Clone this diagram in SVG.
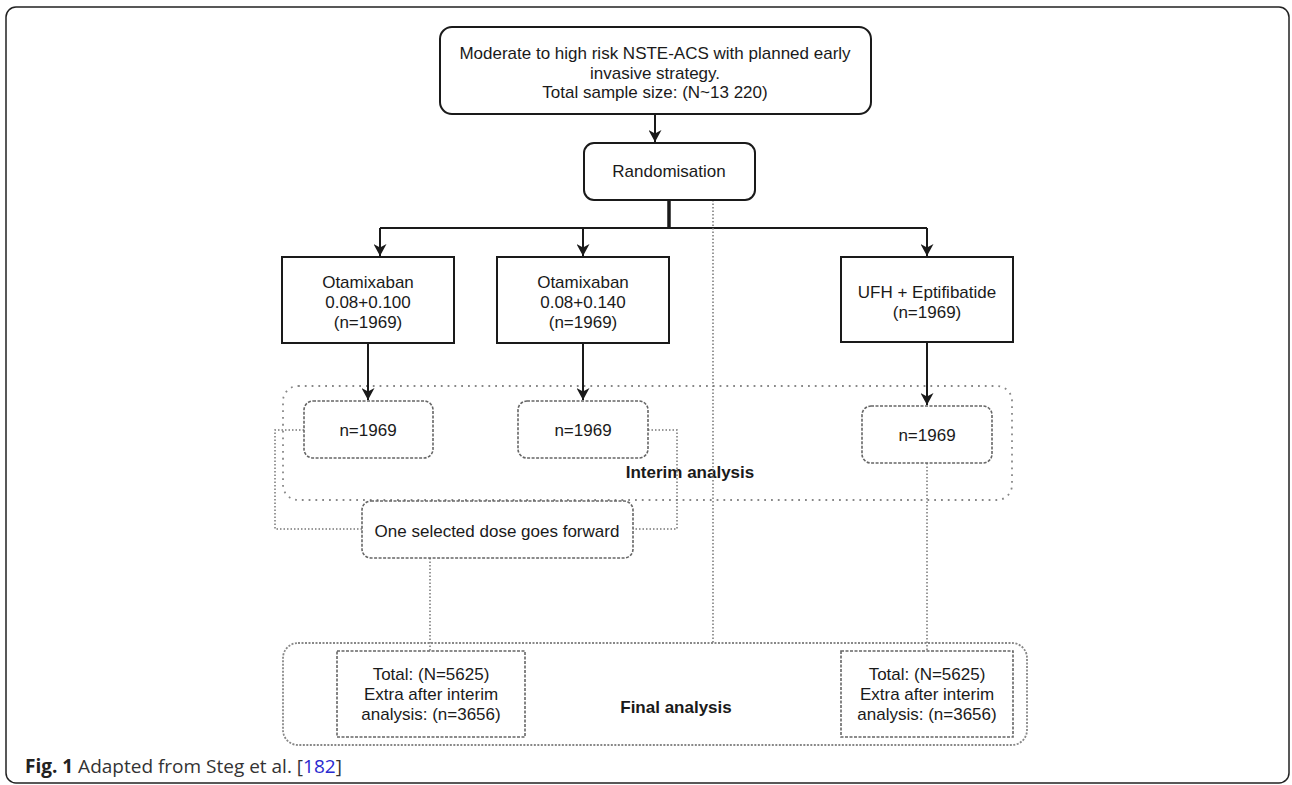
<svg xmlns="http://www.w3.org/2000/svg" width="1292" height="785" viewBox="0 0 1292 785">
<style>
.t{font-family:"Liberation Sans",Arial,sans-serif;font-size:17px;fill:#1a1a1a;text-anchor:middle}
.b{font-weight:bold}
.solid{fill:#fff;stroke:#1a1a1a;stroke-width:2}
.conn{fill:none;stroke:#1a1a1a;stroke-width:2}
.dot{fill:none;stroke:#777;stroke-width:1.5;stroke-dasharray:1.5 2}
.grp{fill:none;stroke:#888;stroke-width:1.8;stroke-dasharray:1.8 5}
.fgrp{fill:none;stroke:#888;stroke-width:1.8;stroke-dasharray:2 1.5}
.dash{fill:#fff;stroke:#666;stroke-width:1.6;stroke-dasharray:3 1.5}
.cap{font-family:"Open Sans","Liberation Sans",sans-serif;font-size:19px;fill:#333}
</style>
<defs>
<marker id="ah" markerWidth="13" markerHeight="13" refX="12" refY="6.5" orient="auto" markerUnits="userSpaceOnUse">
<path d="M0,0 L12,6.5 L0,13 L3.5,6.5 z" fill="#1a1a1a"/>
</marker>
</defs>
<rect x="0" y="0" width="1292" height="785" fill="#fff"/>
<rect id="frame" x="6" y="7" width="1283" height="776" rx="10" fill="none" stroke="#222" stroke-width="1.5"/>

<g id="interim-group">
<rect x="283" y="386" width="729" height="114" rx="15" class="grp"/>
<text x="690" y="478" class="t b">Interim analysis</text>
</g>
<g id="final-group">
<rect x="283" y="643" width="744" height="102" rx="15" class="fgrp"/>
<text x="676" y="713" class="t b">Final analysis</text>
</g>

<g id="connectors">
<line x1="655" y1="114" x2="655" y2="142" class="conn" marker-end="url(#ah)"/>
<line x1="669" y1="200" x2="669" y2="229" stroke="#1a1a1a" stroke-width="3.5"/>
<path d="M380,228 H927" class="conn"/>
<line x1="380" y1="228" x2="380" y2="256" class="conn" marker-end="url(#ah)"/>
<line x1="583" y1="228" x2="583" y2="256" class="conn" marker-end="url(#ah)"/>
<line x1="927" y1="228" x2="927" y2="256" class="conn" marker-end="url(#ah)"/>
<line x1="368" y1="343" x2="368" y2="400" class="conn" marker-end="url(#ah)"/>
<line x1="583" y1="343" x2="583" y2="400" class="conn" marker-end="url(#ah)"/>
<line x1="927" y1="342" x2="927" y2="405" class="conn" marker-end="url(#ah)"/>
<path d="M304,430 H275 V529 H362" class="dot"/>
<path d="M648,430 H677 V529 H633" class="dot"/>
<line x1="713" y1="200" x2="713" y2="643" class="dot"/>
<line x1="430" y1="558" x2="430" y2="651" class="dot"/>
<line x1="927" y1="463" x2="927" y2="651" class="dot"/>
</g>

<g id="n-start">
<rect x="440" y="27" width="431" height="87" rx="12" class="solid"/>
<text x="655" y="59" class="t">Moderate to high risk NSTE-ACS with planned early</text>
<text x="655" y="79" class="t">invasive strategy.</text>
<text x="655" y="98" class="t">Total sample size: (N~13 220)</text>
</g>
<g id="n-random">
<rect x="584" y="143" width="171" height="57" rx="10" class="solid"/>
<text x="669" y="177" class="t">Randomisation</text>
</g>
<g id="n-arm1">
<rect x="282" y="257" width="172" height="86" class="solid"/>
<text x="368" y="288" class="t">Otamixaban</text>
<text x="368" y="308" class="t">0.08+0.100</text>
<text x="368" y="328" class="t">(n=1969)</text>
</g>
<g id="n-arm2">
<rect x="497" y="257" width="172" height="86" class="solid"/>
<text x="583" y="288" class="t">Otamixaban</text>
<text x="583" y="308" class="t">0.08+0.140</text>
<text x="583" y="328" class="t">(n=1969)</text>
</g>
<g id="n-arm3">
<rect x="841" y="257" width="172" height="85" class="solid"/>
<text x="927" y="298" class="t">UFH + Eptifibatide</text>
<text x="927" y="318" class="t">(n=1969)</text>
</g>
<g id="n-int1">
<rect x="304" y="401" width="129" height="57" rx="9" class="dash"/>
<text x="368" y="436" class="t">n=1969</text>
</g>
<g id="n-int2">
<rect x="518" y="401" width="130" height="57" rx="9" class="dash"/>
<text x="583" y="436" class="t">n=1969</text>
</g>
<g id="n-int3">
<rect x="862" y="406" width="130" height="57" rx="9" class="dash"/>
<text x="927" y="441" class="t">n=1969</text>
</g>
<g id="n-select">
<rect x="362" y="501" width="271" height="57" rx="9" class="dash"/>
<text x="497" y="537" class="t">One selected dose goes forward</text>
</g>
<g id="n-final1">
<rect x="337" y="651" width="188" height="86" class="dash"/>
<text x="431" y="680" class="t">Total: (N=5625)</text>
<text x="431" y="700" class="t">Extra after interim</text>
<text x="431" y="720" class="t">analysis: (n=3656)</text>
</g>
<g id="n-final2">
<rect x="841" y="651" width="172" height="86" class="dash"/>
<text x="927" y="680" class="t">Total: (N=5625)</text>
<text x="927" y="700" class="t">Extra after interim</text>
<text x="927" y="720" class="t">analysis: (n=3656)</text>
</g>

<text x="25" y="773" class="cap"><tspan font-weight="bold" fill="#222">Fig. 1</tspan> Adapted from Steg et al. [<tspan fill="#2a2ad0">182</tspan>]</text>
</svg>
